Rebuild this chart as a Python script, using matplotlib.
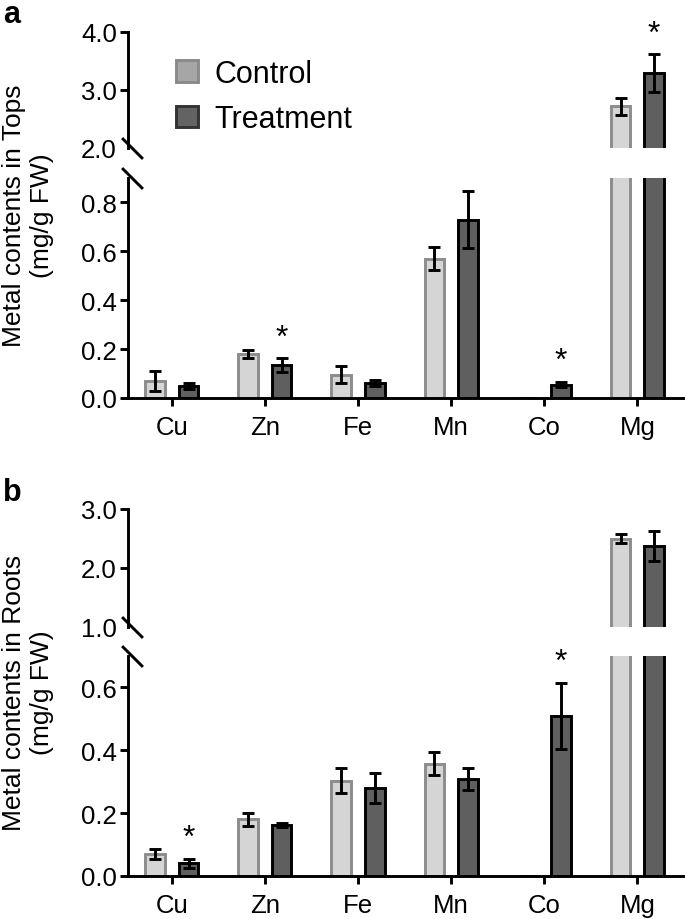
import numpy as np
import matplotlib
matplotlib.use("Agg")
import matplotlib.pyplot as plt
from matplotlib.patches import Patch

plt.rcParams['font.family'] = ['Liberation Sans', 'DejaVu Sans']

elements = ['Cu', 'Zn', 'Fe', 'Mn', 'Co', 'Mg']

# panel a: tops (mg/g FW)
tops_control = [0.07, 0.18, 0.095, 0.57, 0.0, 2.72]
tops_control_err = [0.04, 0.015, 0.035, 0.048, 0.0, 0.15]
tops_treat = [0.05, 0.135, 0.062, 0.73, 0.055, 3.29]
tops_treat_err = [0.012, 0.027, 0.012, 0.117, 0.012, 0.33]
tops_sig = [False, True, False, False, True, True]

# panel b: roots (mg/g FW)
roots_control = [0.07, 0.18, 0.303, 0.357, 0.0, 2.50]
roots_control_err = [0.017, 0.02, 0.04, 0.036, 0.0, 0.07]
roots_treat = [0.04, 0.162, 0.28, 0.31, 0.51, 2.37]
roots_treat_err = [0.015, 0.006, 0.048, 0.035, 0.105, 0.25]
roots_sig = [True, False, False, False, True, False]

W, H = 685, 920
fig = plt.figure(figsize=(W / 100, H / 100), dpi=100)


def px_axes(x0, y0, x1, y1):
    return fig.add_axes([x0 / W, 1 - y1 / H, (x1 - x0) / W, (y1 - y0) / H])


x = np.arange(len(elements))
off = 0.18
width = 0.21
LW = 2.1


def panel(ax_top, ax_bot, ctrl, ctrl_err, trt, trt_err, sig, top_lim, bot_lim, top_ticks, bot_ticks):
    for ax in (ax_top, ax_bot):
        ax.bar(x - off, ctrl, width, color='#d5d5d5', edgecolor='#8c8c8c', linewidth=LW, zorder=2)
        ax.bar(x + off, trt, width, color='#5f5f5f', edgecolor='black', linewidth=LW, zorder=2)
        ax.errorbar(x - off, ctrl, yerr=ctrl_err, fmt='none', ecolor='black',
                    elinewidth=LW, capsize=4.3, capthick=LW, zorder=3)
        ax.errorbar(x + off, trt, yerr=trt_err, fmt='none', ecolor='black',
                    elinewidth=LW, capsize=4.3, capthick=LW, zorder=3)
        ax.set_xlim(-0.47, 5.49)
        for s in ('top', 'right'):
            ax.spines[s].set_visible(False)
        for s in ('left', 'bottom'):
            ax.spines[s].set_linewidth(LW)
        ax.tick_params(axis='both', width=LW, length=6, labelsize=18.5, pad=2)
        ax.patch.set_visible(False)

    ax_top.set_ylim(*top_lim)
    ax_top.set_yticks(top_ticks)
    ax_top.set_yticklabels([f'{t:.1f}' for t in top_ticks])
    ax_top.yaxis.get_major_ticks()[0].tick1line.set_visible(False)
    ax_top.spines['bottom'].set_visible(False)
    ax_top.set_xticks([])

    ax_bot.set_ylim(*bot_lim)
    ax_bot.set_yticks(bot_ticks)
    ax_bot.set_yticklabels([f'{t:.1f}' for t in bot_ticks])
    ax_bot.set_xticks(x)
    ax_bot.set_xticklabels(elements)
    ax_bot.tick_params(axis='x', pad=6)

    # break marks on the y axis
    for ax, yy in ((ax_top, 0), (ax_bot, 1)):
        ax.plot([0.008], [yy], transform=ax.transAxes, marker=[(-1, 1), (1, -1)],
                markersize=15, mec='black', mew=LW, clip_on=False, ls='none')

    for i, s in enumerate(sig):
        if not s:
            continue
        v = trt[i] + trt_err[i]
        ax = ax_top if v > bot_lim[1] else ax_bot
        ax.annotate('*', (x[i] + off, v), xytext=(0, 9), textcoords='offset points',
                    ha='center', va='baseline', fontsize=23, annotation_clip=False)


a_top = px_axes(128, 33, 683, 149)
a_bot = px_axes(128, 179, 683, 399)
panel(a_top, a_bot, tops_control, tops_control_err, tops_treat, tops_treat_err, tops_sig,
      (2.0, 4.0), (0.0, 0.9), [2.0, 3.0, 4.0], [0.0, 0.2, 0.4, 0.6, 0.8])

b_top = px_axes(128, 510, 683, 628)
b_bot = px_axes(128, 657, 683, 877)
panel(b_top, b_bot, roots_control, roots_control_err, roots_treat, roots_treat_err, roots_sig,
      (1.0, 3.0), (0.0, 0.7), [1.0, 2.0, 3.0], [0.0, 0.2, 0.4, 0.6])

handles = [Patch(facecolor='#a6a6a6', edgecolor='#8a8a8a', linewidth=LW, label='Control'),
           Patch(facecolor='#636363', edgecolor='#333333', linewidth=LW, label='Treatment')]
fig.legend(handles=handles, loc='upper left', bbox_to_anchor=(176 / W, 1 - 60 / H),
           frameon=False, fontsize=22, borderpad=0, borderaxespad=0,
           handlelength=0.72, handleheight=0.72, handletextpad=0.55, labelspacing=0.5)

fig.text(28 / W, 1 - 216 / H, 'Metal contents in Tops\n(mg/g FW)', rotation=90,
         ha='center', va='center', multialignment='center', fontsize=19)
fig.text(28 / W, 1 - 693 / H, 'Metal contents in Roots\n(mg/g FW)', rotation=90,
         ha='center', va='center', multialignment='center', fontsize=19)

fig.text(3 / W, 1 - 0 / H, 'a', fontsize=22, fontweight='bold', ha='left', va='top')
fig.text(3 / W, 1 - 478 / H, 'b', fontsize=22, fontweight='bold', ha='left', va='top')

fig.savefig('out.png', dpi=100)
